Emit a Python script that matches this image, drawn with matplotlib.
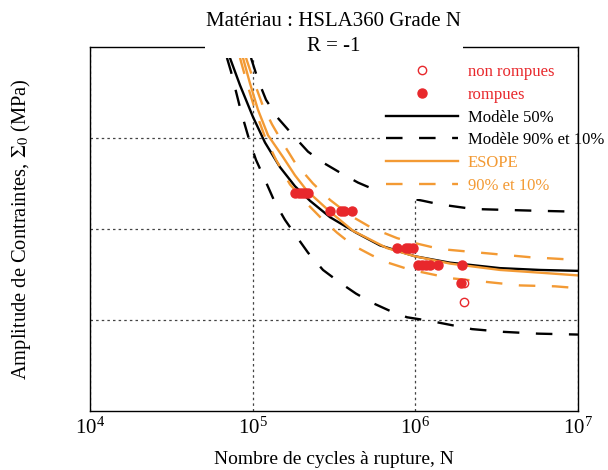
import matplotlib
matplotlib.use('Agg')
import matplotlib.pyplot as plt
from matplotlib.ticker import FixedLocator, NullLocator, LogFormatterMathtext

plt.rcParams['font.family'] = 'Liberation Serif'
plt.rcParams['mathtext.fontset'] = 'stix'

RED = '#e8282c'
ORANGE = '#f39a34'

# Modele 50% (black solid)
m50_N = [72500, 83600, 100500, 119100, 147200, 182000, 225200, 298800, 431800,
         606300, 995200, 1634000, 3315000, 5838000, 1e7]
m50_S = [388, 358, 323, 295, 268, 247, 231, 213, 196, 182, 170, 163, 157, 155, 154]

# Modele 10% (black dashed, lower)
m10_N = [69500, 73600, 79000, 84800, 96300, 104800, 115700, 137200, 158000, 187300,
         218900, 270600, 344200, 431800, 541500, 698700, 888800, 1231000, 2230000,
         3459000, 5675000, 1e7]
m10_S = [388, 373, 351, 329, 295, 276, 259, 229, 210, 191, 174, 155, 141, 129, 119,
         110, 103, 99, 90, 87, 85, 84]

# Modele 90% (black dashed, upper)
m90_N = [97700, 107800, 120800, 141200, 177000, 218900, 270600, 344200, 444200,
         565000, 804800, 1115000, 1418000, 2262000, 3558000, 5675000, 1e7]
m90_S = [388, 364, 342, 323, 303, 285, 273, 262, 251, 243, 236, 231, 227, 222, 221, 220, 219]

# ESOPE 50% (orange solid)
es50_N = [87200, 96300, 107800, 124300, 153700, 182000, 215800, 298800, 413900,
          669700, 995200, 1634000, 3315000, 5838000, 1e7]
es50_S = [388, 360, 331, 303, 279, 259, 242, 219, 198, 179, 170, 162, 155, 152, 149]

# ESOPE 90% (orange dashed, upper)
es90_N = [91000, 101900, 115700, 131500, 151500, 182000, 234900, 298800, 396600,
          541500, 771400, 967400, 1418000, 2498000, 5069000, 1e7]
es90_S = [388, 362, 335, 315, 296, 273, 250, 232, 215, 201, 190, 185, 178, 174, 169, 166]

# ESOPE 10% (orange dashed, lower)
es10_N = [83600, 92300, 103400, 119100, 139200, 169600, 212800, 266900, 329900,
          413900, 541500, 679300, 864000, 1068000, 1634000, 2681000, 4399000, 7219000, 1e7]
es10_S = [388, 360, 331, 301, 276, 249, 229, 211, 196, 182, 171, 163, 157, 153, 146,
          142, 138, 137, 135]

# essais
romp_N = [182000, 192700, 201100, 209800, 218900,
          298800, 349200, 364300, 407900,
          771400, 876200, 914200, 963400,
          1038000, 1099000, 1163000, 1231000, 1378000, 1936000,
          1909000]
romp_S = [240, 240, 240, 240, 240,
          220, 220, 220, 220,
          179, 179, 179, 179,
          160, 160, 160, 160, 160, 160,
          141]
nonromp_N = [1978000, 1978000]
nonromp_S = [141, 120]

fig = plt.figure(figsize=(6.08, 4.70), dpi=100)
ax = fig.add_axes([90/608, 59/470, 488/608, 364/470])

lw = 1.7
dash = (0, (7, 7))
ax.plot(m50_N, m50_S, color='black', lw=lw, label='Modèle 50%')
ax.plot(m90_N, m90_S, color='black', lw=lw, ls=dash, label='Modèle 90% et 10%')
ax.plot(m10_N, m10_S, color='black', lw=lw, ls=dash)
ax.plot(es50_N, es50_S, color=ORANGE, lw=lw, label='ESOPE')
ax.plot(es90_N, es90_S, color=ORANGE, lw=lw, ls=dash, label='90% et 10%')
ax.plot(es10_N, es10_S, color=ORANGE, lw=lw, ls=dash)
ax.plot(nonromp_N, nonromp_S, 'o', mfc='white', mec=RED, mew=1.0, ms=6, zorder=3,
        label='non rompues')
ax.plot(romp_N, romp_S, 'o', color=RED, ms=6.5, zorder=4, label='rompues')

ax.set_xscale('log')
ax.set_xlim(1e4, 1e7)
ax.set_ylim(0, 400)
ax.xaxis.set_major_locator(FixedLocator([1e4, 1e5, 1e6, 1e7]))
ax.xaxis.set_minor_locator(NullLocator())
ax.xaxis.set_major_formatter(LogFormatterMathtext())
ax.set_yticks([100, 200, 300])
ax.set_yticklabels([])
ax.tick_params(length=0, labelsize=15, pad=5)
ax.grid(True, color='#444444', ls=(0, (2, 2.5)), lw=0.9)
for s in ax.spines.values():
    s.set_linewidth(1.0)

ax.set_xlabel('Nombre de cycles à rupture, N', fontsize=14)
ax.xaxis.set_label_coords(0.5, -0.11)
ax.set_ylabel('Amplitude de Contraintes, $\\Sigma_0$ (MPa)', fontsize=14.8)
ax.yaxis.set_label_coords(-0.117, 0.5)

h, l = ax.get_legend_handles_labels()
order = ['non rompues', 'rompues', 'Modèle 50%', 'Modèle 90% et 10%', 'ESOPE', '90% et 10%']
hd = dict(zip(l, h))
leg = ax.legend([hd[k] for k in order], order, loc='upper left',
                bbox_to_anchor=(373/608, 1 - 51/470), bbox_transform=fig.transFigure,
                frameon=True, facecolor='white', edgecolor='none', framealpha=1,
                fancybox=False, borderpad=0.3, handlelength=4.3, handletextpad=0.6,
                labelspacing=0.4, fontsize=12, numpoints=1)
leg.set_zorder(2.2)
cols = [RED, RED, 'black', 'black', ORANGE, ORANGE]
for t, c in zip(leg.get_texts(), cols):
    t.set_color(c)

fig.text(334/608, 1 - 34/470, 'Matériau : HSLA360 Grade N\nR = -1', ha='center',
         va='center', fontsize=15, linespacing=1.45,
         bbox=dict(facecolor='white', edgecolor='none', pad=1))

fig.savefig('out.png', dpi=100)
